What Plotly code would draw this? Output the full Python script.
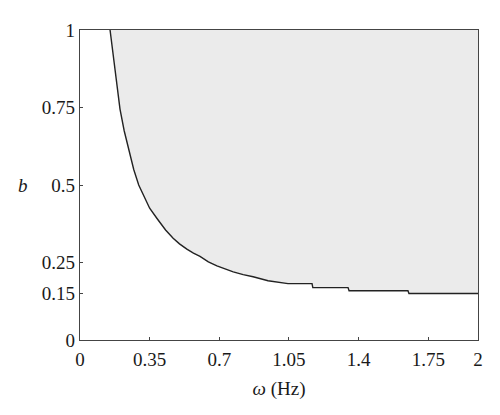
import plotly.graph_objects as go

# Boundary curve (omega in Hz, b)
omega = [0.151, 0.163, 0.176, 0.19, 0.201, 0.222, 0.245, 0.27, 0.295, 0.317, 0.35, 0.387,
         0.43, 0.468, 0.50, 0.537, 0.57, 0.603, 0.645, 0.688, 0.73, 0.77, 0.82, 0.87,
         0.945, 1.045, 1.166, 1.17, 1.347, 1.352, 1.648, 1.653, 2.0]
b = [1.0, 0.94, 0.882, 0.81, 0.745, 0.675, 0.61, 0.55, 0.50, 0.468, 0.425, 0.392,
     0.355, 0.328, 0.31, 0.293, 0.28, 0.27, 0.252, 0.239, 0.228, 0.22, 0.211, 0.204,
     0.191, 0.182, 0.182, 0.169, 0.169, 0.159, 0.159, 0.150, 0.150]

x_ticks = [0, 0.35, 0.7, 1.05, 1.4, 1.75, 2]
x_labels = ["0", "0.35", "0.7", "1.05", "1.4", "1.75", "2"]
y_ticks = [0, 0.15, 0.25, 0.5, 0.75, 1]
y_labels = ["0", "0.15", "0.25", "0.5", "0.75", "1"]

FONT = "Liberation Serif"
TXT = "#1a1a1a"

fig = go.Figure()
# shaded region above the curve
fig.add_trace(go.Scatter(
    x=omega + [2.0, omega[0]], y=b + [1.0, 1.0],
    fill="toself", fillcolor="#ebebeb", mode="none", hoverinfo="skip", showlegend=False))
fig.add_trace(go.Scatter(
    x=omega, y=b, mode="lines", line=dict(color="#222222", width=1.4), showlegend=False))

axis_common = dict(showgrid=False, zeroline=False, showline=True, linecolor="#444444",
                   linewidth=1.3, mirror=True, ticks="inside", ticklen=3, tickwidth=1,
                   tickcolor="#444444", tickfont=dict(family=FONT, size=19, color=TXT))

fig.update_xaxes(range=[0, 2], tickvals=x_ticks, ticktext=x_labels, ticklabelstandoff=2,
                 title=dict(text="<i>ω</i> (Hz)", font=dict(family=FONT, size=19, color=TXT),
                            standoff=12),
                 **axis_common)
fig.update_yaxes(range=[0, 1], tickvals=y_ticks, ticktext=y_labels, **axis_common)

fig.add_annotation(text="<i>b</i>", xref="paper", yref="paper", x=-0.143, y=0.5,
                   showarrow=False, font=dict(family=FONT, size=19, color=TXT),
                   xanchor="center", yanchor="middle")

fig.update_layout(width=492, height=407, margin=dict(l=72, r=22, t=18, b=75),
                  plot_bgcolor="white", paper_bgcolor="white")

fig.write_html("out.html")
